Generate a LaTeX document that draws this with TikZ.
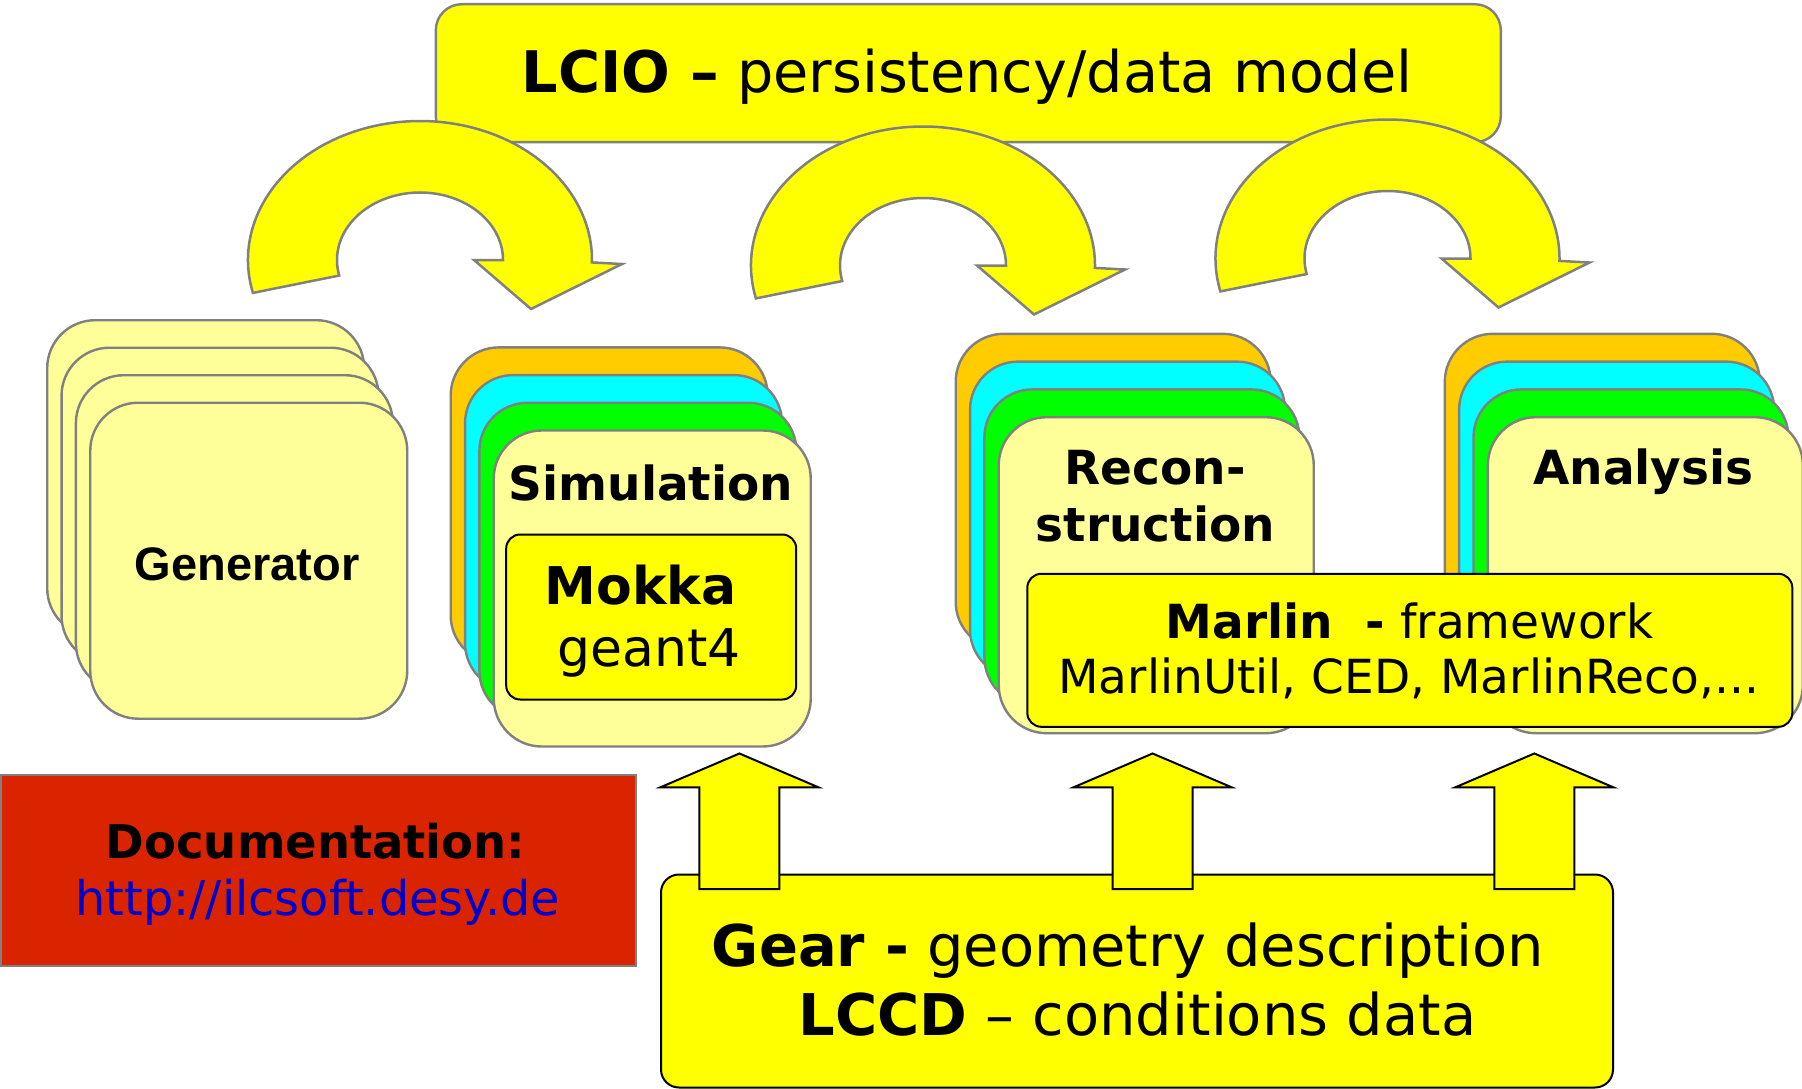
\documentclass[tikz,border=0pt]{standalone}
\usepackage{fontspec}
\setmainfont{DejaVu Sans}
\newfontfamily\arialfam{Liberation Sans}
\usetikzlibrary{calc}
\definecolor{gborder}{HTML}{808080}
\definecolor{lyellow}{HTML}{FFFF99}
\definecolor{byellow}{HTML}{FFFF00}
\definecolor{orng}{HTML}{FFCC00}
\definecolor{cyn}{HTML}{00FFFF}
\definecolor{grn}{HTML}{00FF00}
\definecolor{docred}{HTML}{DA2400}
\definecolor{linkblue}{HTML}{0000CC}
\newcommand\fsz[1]{\fontsize{#1}{#1}\selectfont}
\tikzset{
  card/.style={draw=gborder,line width=2.4pt,rounded corners=48pt,inner sep=0pt,anchor=north west},
  ybox/.style={draw=black,line width=2pt,fill=byellow,rounded corners=14pt,inner sep=0pt,anchor=north west},
  curvearrow/.style={draw=gborder,line width=2.5pt,fill=byellow,line join=miter},
  uparrow/.style={draw=black,line width=2pt,fill=byellow,line join=miter},
  lbl/.style={anchor=base,inner sep=0pt},
}
\newcommand\bigcurve[2]{%
  \path[curvearrow] (#1,#2) ++(193.7:172pt and 139pt)
    arc[start angle=193.7,end angle=-1,x radius=172pt,y radius=139pt]
    -- ($(#1,#2)+(202,4)$) -- ($(#1,#2)+(111,49)$) -- ($(#1,#2)+(54,0)$)
    -- ($(#1,#2)+(83,0)$)
    arc[start angle=0,end angle=193.3,x radius=83pt,y radius=67.5pt] -- cycle;}
\newcommand\upblock[1]{%
  \path[uparrow] (#1,753.5) -- ($(#1,787.3)+(79,0)$) -- ($(#1,787.3)+(40,0)$)
    -- ($(#1,889)+(40,0)$) -- ($(#1,889)+(-40,0)$) -- ($(#1,787.3)+(-40,0)$)
    -- ($(#1,787.3)+(-79,0)$) -- cycle;}
\begin{document}
\begin{tikzpicture}[x=1pt,y=-1pt]
\useasboundingbox (0,0) rectangle (1802,1089);
% LCIO box
\node[draw=gborder,line width=2.4pt,fill=byellow,rounded corners=26pt,inner sep=0pt,anchor=north west,
      minimum width=1065pt,minimum height=138pt] (lcio) at (434.6,3) {};
\node[lbl,font=\fsz{57.3}] (lciotext) at (967,93) {\textbf{LCIO –} persistency/data model};
% curved arrows
\bigcurve{420}{260}
\bigcurve{923}{265.5}
\bigcurve{1387.5}{258.5}
% generator stack
\foreach \i in {0,1,2,3}
  \node[card,fill=lyellow,minimum width=317pt,minimum height=316pt] (gen\i) at ({46+14.35*\i},{319+27.5*\i}) {};
\node[lbl,font=\arialfam\bfseries\fsz{47}] (genlabel) at (247,580.7) {Generator};
% simulation stack
\foreach \i/\c in {0/orng,1/cyn,2/grn,3/lyellow}
  \node[card,fill=\c,minimum width=317pt,minimum height=316pt] (sim\i) at ({449.5+14.35*\i},{346.2+27.7*\i}) {};
\node[lbl,font=\bfseries\fsz{47}] (simlabel) at (651,500.5) {Simulation};
\node[ybox,minimum width=290pt,minimum height=165pt] (mokka) at (505.2,533.5) {};
\node[lbl,font=\bfseries\fsz{52}] (mokkatext) at (640.7,604.8) {Mokka};
\node[lbl,font=\fsz{52}] (geanttext) at (649,666) {geant4};
% reconstruction stack
\foreach \i/\c in {0/orng,1/cyn,2/grn,3/lyellow}
  \node[card,fill=\c,minimum width=315pt,minimum height=316pt] (rec\i) at ({954.5+14.35*\i},{332.6+27.8*\i}) {};
\node[lbl,font=\bfseries\fsz{47}] (reclabela) at (1155,484.9) {Recon-};
\node[lbl,font=\bfseries\fsz{47}] (reclabelb) at (1155.5,541.5) {struction};
% analysis stack
\foreach \i/\c in {0/orng,1/cyn,2/grn,3/lyellow}
  \node[card,fill=\c,minimum width=315pt,minimum height=316pt] (ana\i) at ({1443.6+14.35*\i},{332.6+27.8*\i}) {};
\node[lbl,font=\bfseries\fsz{47}] (analabel) at (1643.4,484.9) {Analysis};
% Marlin box
\node[ybox,minimum width=765pt,minimum height=153pt] (marlin) at (1026.3,572.8) {};
\node[lbl,font=\fsz{47}] (marlina) at (1409.5,638.2) {\textbf{Marlin\hspace{0.7em}-} framework};
\node[lbl,font=\fsz{47}] (marlinb) at (1408.6,693.8) {MarlinUtil, CED, MarlinReco,...};
% documentation box
\node[draw=gborder,line width=1.5pt,fill=docred,inner sep=0pt,anchor=north west,
      minimum width=635pt,minimum height=191pt] (doc) at (0,774.4) {};
\node[lbl,font=\bfseries\fsz{46.5}] (doca) at (315.7,858.5) {Documentation:};
\node[lbl,font=\fsz{47.8},text=linkblue] (docb) at (317.8,915.2) {http://ilcsoft.desy.de};
% Gear box
\node[ybox,rounded corners=18pt,minimum width=952pt,minimum height=213pt] (gear) at (660,873.5) {};
\node[lbl,font=\fsz{57.5}] (geara) at (1128,966.7) {\textbf{Gear -} geometry description};
\node[lbl,font=\fsz{57.5}] (gearb) at (1137.5,1035) {\textbf{LCCD} – conditions data};
% up arrows
\upblock{739.4}
\upblock{1152.6}
\upblock{1534.3}
\end{tikzpicture}
\end{document}
